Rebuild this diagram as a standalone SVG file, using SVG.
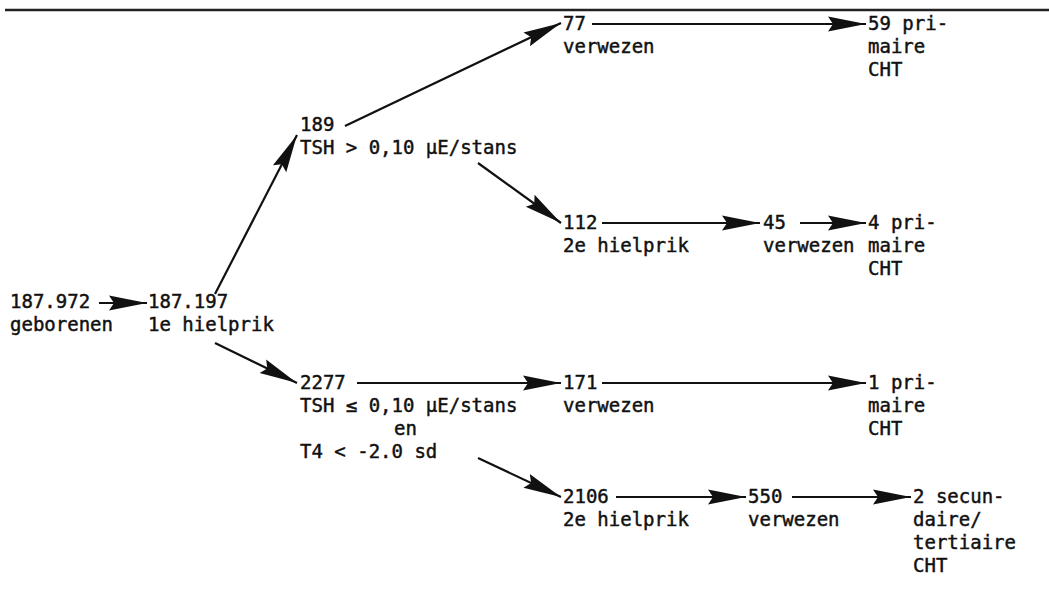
<svg xmlns="http://www.w3.org/2000/svg" width="1049" height="615" viewBox="0 0 1049 615">
  <style>
    text { font-family: "DejaVu Sans Mono", "Liberation Mono", monospace; font-size: 19px; fill: #111; stroke: #111; stroke-width: 0.45; }
    .edge { stroke: #111; stroke-width: 2.2; fill: none; marker-end: url(#arrow); }
  </style>
  <defs>
    <!-- long filled arrowhead with a small notch at the base -->
    <marker id="arrow" markerUnits="userSpaceOnUse" markerWidth="40" markerHeight="18" refX="38" refY="9" orient="auto">
      <path d="M0,1.5 Q20,5.5 38,9 Q20,12.5 0,16.5 L5,9 Z" fill="#111"/>
    </marker>
  </defs>
  <rect width="1049" height="615" fill="#fff"/>
  <line x1="5" y1="10" x2="1049" y2="10" stroke="#222" stroke-width="2.5"/>

  <g id="connectors">
    <line class="edge" x1="99" y1="303" x2="147" y2="303"/>
    <line class="edge" x1="215" y1="294" x2="297" y2="135"/>
    <line class="edge" x1="215" y1="343" x2="297" y2="383"/>
    <line class="edge" x1="345" y1="126" x2="561" y2="23"/>
    <line class="edge" x1="592" y1="24" x2="866" y2="24"/>
    <line class="edge" x1="478" y1="163" x2="561" y2="223"/>
    <line class="edge" x1="602" y1="223" x2="760" y2="223"/>
    <line class="edge" x1="800" y1="223" x2="866" y2="223"/>
    <line class="edge" x1="357" y1="383" x2="561" y2="383"/>
    <line class="edge" x1="602" y1="383" x2="866" y2="383"/>
    <line class="edge" x1="478" y1="458" x2="561" y2="497"/>
    <line class="edge" x1="616" y1="497" x2="746" y2="497"/>
    <line class="edge" x1="792" y1="497" x2="911" y2="497"/>
  </g>

  <g id="n-geborenen"><text x="10" y="308">187.972</text><text x="10" y="331">geborenen</text></g>
  <g id="n-hielprik1"><text x="148" y="308">187.197</text><text x="148" y="331">1e hielprik</text></g>
  <g id="n-189"><text x="300" y="131">189</text><text x="300" y="154">TSH &gt; 0,10 μE/stans</text></g>
  <g id="n-2277"><text x="300" y="389">2277</text><text x="300" y="412">TSH ≤ 0,10 μE/stans</text><text x="394" y="435">en</text><text x="300" y="458">T4 &lt; -2.0 sd</text></g>
  <g id="n-77"><text x="563" y="30">77</text><text x="563" y="53">verwezen</text></g>
  <g id="n-59"><text x="868" y="30">59 pri-</text><text x="868" y="53">maire</text><text x="868" y="76">CHT</text></g>
  <g id="n-112"><text x="563" y="229">112</text><text x="563" y="252">2e hielprik</text></g>
  <g id="n-45"><text x="763" y="229">45</text><text x="763" y="252">verwezen</text></g>
  <g id="n-4"><text x="868" y="229">4 pri-</text><text x="868" y="252">maire</text><text x="868" y="275">CHT</text></g>
  <g id="n-171"><text x="563" y="389">171</text><text x="563" y="412">verwezen</text></g>
  <g id="n-1"><text x="868" y="389">1 pri-</text><text x="868" y="412">maire</text><text x="868" y="435">CHT</text></g>
  <g id="n-2106"><text x="563" y="503">2106</text><text x="563" y="526">2e hielprik</text></g>
  <g id="n-550"><text x="748" y="503">550</text><text x="748" y="526">verwezen</text></g>
  <g id="n-2"><text x="913" y="503">2 secun-</text><text x="913" y="526">daire/</text><text x="913" y="549">tertiaire</text><text x="913" y="572">CHT</text></g>
</svg>
